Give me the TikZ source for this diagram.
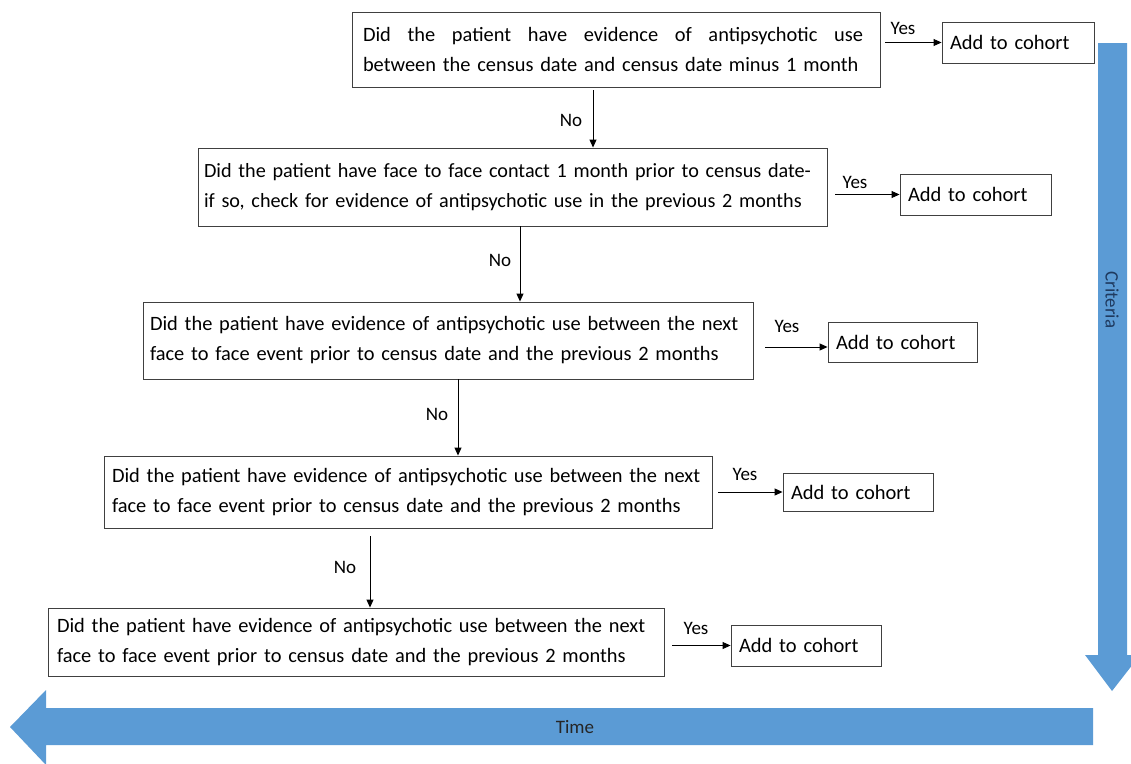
\documentclass[tikz,border=0pt]{standalone}
\usepackage{fontspec}
\setmainfont{Carlito}
\usetikzlibrary{arrows.meta}
\definecolor{barblue}{HTML}{5B9BD5}
\definecolor{critc}{HTML}{1F3A5F}
\tikzset{
  qbox/.style={draw=black!75, line width=0.9pt, inner ysep=0pt, align=left,
    font=\fontsize{20.4}{30}\selectfont},
  abox/.style={draw=black!75, line width=0.9pt, inner ysep=0pt, inner xsep=8pt, align=left,
    font=\fontsize{20.5}{24}\selectfont},
  conn/.style={draw=black, line width=0.9pt, -{Triangle[length=8pt,width=7pt]}},
  lbl/.style={font=\fontsize{19}{22}\selectfont, inner sep=0pt},
}
\begin{document}
\begin{tikzpicture}[x=1pt,y=-1pt]
\useasboundingbox (0,0) rectangle (1131,763);
% criteria and time bars
\fill[barblue] (1098,43) -- (1127,43) -- (1127,655) -- (1140,655) -- (1112,691) -- (1085,655) -- (1098,655) -- cycle;
\fill[barblue] (1093,708) -- (1093,745) -- (46,745) -- (46,765) -- (10,727) -- (46,690) -- (46,708) -- cycle;
\node[rotate=-90, text=critc, font=\fontsize{19}{22}\selectfont] (crit) at (1112,300) {Criteria};
\node[text=black!85, font=\fontsize{19}{22}\selectfont] (time) at (575,727) {Time};
% question boxes
\node[qbox, inner xsep=11pt, text width=506pt, minimum width=528pt, minimum height=75pt] (q1) at (616,49.5)
  {\hbox to 500pt{Did\hfil the\hfil patient\hfil have\hfil evidence\hfil of\hfil antipsychotic\hfil use}\\between the census date and census date minus 1 month};
\node[qbox, font=\fontsize{20.2}{30}\selectfont, inner xsep=6pt, text width=617pt, minimum width=629pt, minimum height=78pt] (q2) at (512.5,187)
  {Did the patient have face to face contact 1 month prior to census date-\\if so, check for evidence of antipsychotic use in the previous 2 months};
\node[qbox, inner xsep=7pt, text width=596pt, minimum width=610pt, minimum height=77pt] (q3) at (448,340.5)
  {Did the patient have evidence of antipsychotic use between the next\\face to face event prior to census date and the previous 2 months};
\node[qbox, inner xsep=8pt, text width=592pt, minimum width=608pt, minimum height=72pt] (q4) at (408,492)
  {Did the patient have evidence of antipsychotic use between the next\\face to face event prior to census date and the previous 2 months};
\node[qbox, inner xsep=9pt, text width=598pt, minimum width=616pt, minimum height=68pt] (q5) at (356,642)
  {Did the patient have evidence of antipsychotic use between the next\\face to face event prior to census date and the previous 2 months};
% add boxes
\node[abox, text width=136pt, minimum width=152pt, minimum height=41pt] (a1) at (1018,42.5) {Add to cohort};
\node[abox, text width=135pt, minimum width=151pt, minimum height=41pt] (a2) at (975.5,194.5) {Add to cohort};
\node[abox, text width=133pt, minimum width=149pt, minimum height=40pt] (a3) at (902.5,342) {Add to cohort};
\node[abox, text width=134pt, minimum width=150pt, minimum height=38pt] (a4) at (858,492) {Add to cohort};
\node[abox, text width=134pt, minimum width=150pt, minimum height=41pt] (a5) at (806,645.5) {Add to cohort};
% yes arrows
\draw[conn, shorten <=5pt] (q1.east |- a1.west) -- (a1.west);
\draw[conn, shorten <=8pt] (q2.east |- a2.west) -- (a2.west);
\draw[conn, shorten <=12pt] (q3.east |- 0,347) -- (a3.west |- 0,347);
\draw[conn, shorten <=6pt] (q4.east |- a4.west) -- (a4.west);
\draw[conn, shorten <=8pt] (q5.east |- a5.west) -- (a5.west);
\node[lbl] (y1) at (903,28) {Yes};
\node[lbl] (y2) at (855,182) {Yes};
\node[lbl] (y3) at (787,326) {Yes};
\node[lbl] (y4) at (745,474) {Yes};
\node[lbl] (y5) at (696,628) {Yes};
% no arrows
\coordinate (d1) at (593,0);
\coordinate (d2) at (520,0);
\coordinate (d3) at (458,0);
\coordinate (d4) at (370,0);
\draw[conn, shorten <=3pt] (q1.south -| d1) -- (q2.north -| d1);
\draw[conn] (q2.south -| d2) -- (q3.north -| d2);
\draw[conn] (q3.south -| d3) -- (q4.north -| d3);
\draw[conn, shorten <=8pt] (q4.south -| d4) -- (q5.north -| d4);
\node[lbl] (n1) at (571,120) {No};
\node[lbl] (n2) at (500,260) {No};
\node[lbl] (n3) at (437,414) {No};
\node[lbl] (n4) at (345,567) {No};
\end{tikzpicture}
\end{document}
